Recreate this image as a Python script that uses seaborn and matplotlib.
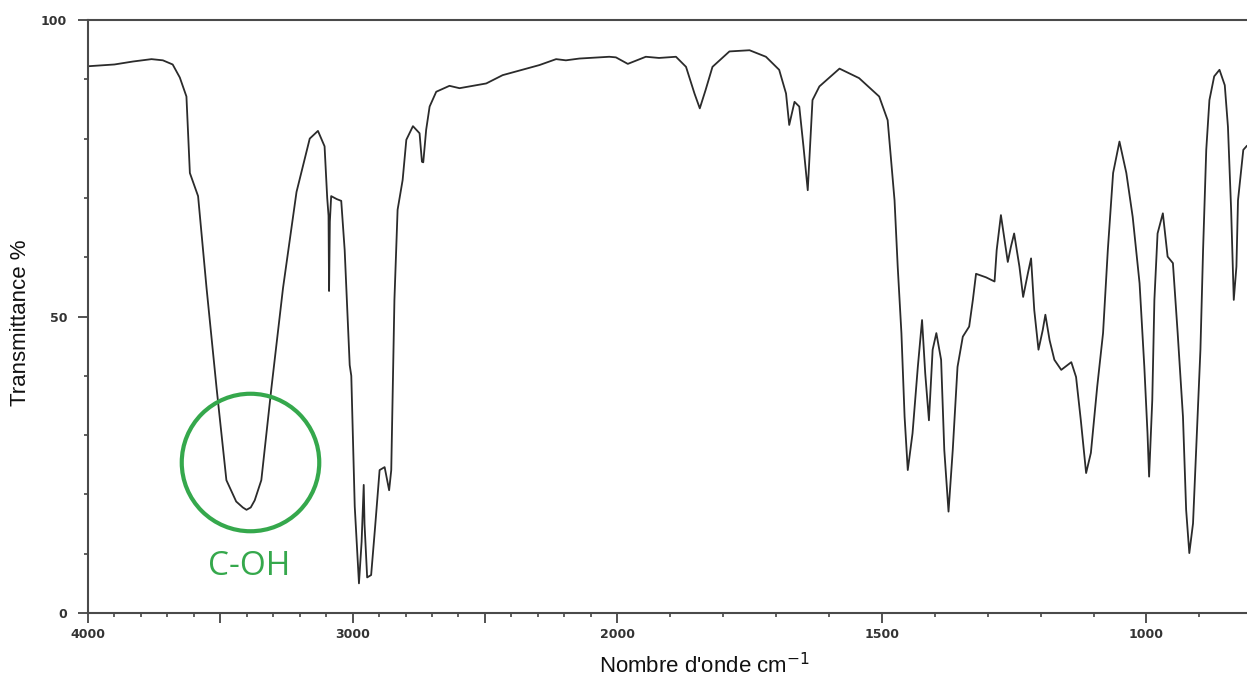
import numpy as np
import matplotlib
matplotlib.use("Agg")
import matplotlib.pyplot as plt
import seaborn as sns

# IR spectrum (wavenumber cm-1 -> transmittance %)
wavenumber = [
    4000, 3900, 3830, 3760, 3717, 3680, 3653, 3628, 3615, 3584, 3552, 3514, 3477,
    3440, 3415, 3401, 3385, 3370, 3345, 3307, 3263, 3212, 3162, 3131, 3106, 3096,
    3091, 3089, 3086, 3081, 3060, 3043, 3030, 3011, 3005, 2992, 2976, 2966, 2958,
    2955, 2945, 2930, 2915, 2898, 2879, 2862, 2854, 2848, 2842, 2830, 2811, 2797,
    2772, 2747, 2738, 2733, 2722, 2709, 2684, 2634, 2596, 2495, 2433, 2294, 2231,
    2194, 2143, 2030, 2005, 1980, 1946, 1921, 1889, 1870, 1854, 1844, 1833, 1820,
    1788, 1750, 1719, 1694, 1681, 1675, 1665, 1656, 1648, 1640, 1631, 1618, 1580,
    1543, 1505, 1489, 1476, 1470, 1463, 1457, 1451, 1442, 1432, 1424, 1418, 1411,
    1404, 1397, 1388, 1382, 1374, 1366, 1357, 1347, 1335, 1328, 1322, 1303, 1287,
    1283, 1275, 1268, 1262, 1256, 1250, 1240, 1233, 1224, 1218, 1212, 1204, 1196,
    1191, 1183, 1174, 1161, 1142, 1133, 1124, 1114, 1105, 1093, 1082, 1073, 1063,
    1051, 1038, 1026, 1013, 1004, 998, 995, 989, 985, 979, 969, 960, 950, 941, 931,
    925, 919, 912, 906, 898, 893, 887, 881, 872, 862, 852, 846, 840, 835, 830, 827,
    817, 810,
]
transmittance = [
    92.2, 92.5, 93.0, 93.4, 93.2, 92.5, 90.3, 87.1, 74.2, 70.3, 54.8, 37.9, 22.4,
    18.8, 17.8, 17.4, 17.8, 19.0, 22.4, 37.9, 54.8, 71.0, 80.0, 81.3, 78.7, 70.0,
    67.0, 54.3, 66.0, 70.3, 69.8, 69.5, 61.2, 41.8, 40.0, 18.0, 5.0, 12.0, 21.6,
    15.0, 6.0, 6.4, 14.5, 24.1, 24.6, 20.7, 24.1, 38.8, 52.8, 68.0, 73.0, 79.8,
    82.1, 80.9, 76.1, 76.0, 81.5, 85.4, 87.9, 88.9, 88.5, 89.3, 90.7, 92.4, 93.4,
    93.2, 93.5, 93.8, 93.7, 92.6, 93.8, 93.6, 93.8, 92.1, 87.6, 85.1, 88.2, 92.1,
    94.7, 94.9, 93.8, 91.6, 87.6, 82.3, 86.2, 85.4, 78.6, 71.3, 86.5, 88.8, 91.8,
    90.2, 87.1, 83.1, 69.6, 58.4, 47.2, 33.1, 24.1, 30.3, 41.5, 49.4, 40.4, 32.5,
    44.4, 47.2, 42.7, 27.5, 17.1, 27.5, 41.5, 46.6, 48.3, 52.8, 57.2, 56.6, 55.9,
    61.2, 67.1, 62.9, 59.2, 61.8, 64.0, 58.4, 53.3, 57.3, 59.8, 51.1, 44.4, 47.7,
    50.3, 46.0, 42.7, 41.0, 42.3, 39.8, 32.5, 23.6, 27.0, 38.2, 47.2, 61.2, 74.2,
    79.5, 74.2, 66.8, 55.6, 41.5, 30.3, 23.0, 35.9, 52.8, 64.0, 67.4, 60.1, 59.0,
    47.2, 33.1, 17.4, 10.1, 15.1, 27.5, 44.4, 61.2, 78.1, 86.5, 90.5, 91.6, 89.0,
    82.0, 68.0, 52.8, 58.4, 69.6, 78.1, 78.8,
]

x_major = [4000, 3500, 3000, 2500, 2000, 1500, 1000]
x_major_labels = ["4000", "", "3000", "", "2000", "1500", "1000"]
y_major = [0, 50, 100]
y_major_labels = ["0", "50", "100"]

# annotated band
coh_label = "C-OH"
coh_wavenumber = 3389
coh_transmittance = 25.5

df = {"w": wavenumber, "t": transmittance}

sns.set_theme(style="ticks")
plt.rcParams["font.family"] = ["Liberation Sans", "DejaVu Sans"]


# spectrometer axis: scale doubles below 2000 cm-1
def forward(w):
    w = np.asarray(w, dtype=float)
    return np.where(w >= 2000, w, 2000 - 2 * (2000 - w))


def inverse(u):
    u = np.asarray(u, dtype=float)
    return np.where(u >= 2000, u, 2000 - (2000 - u) / 2)


fig = plt.figure(figsize=(12.47, 6.77), dpi=100)
ax = fig.add_axes([88 / 1247, 64 / 677, 1 - 88 / 1247, 593 / 677])
ax.set_xscale("function", functions=(forward, inverse))

sns.lineplot(data=df, x="w", y="t", sort=False, estimator=None,
             color="#2b2b2b", linewidth=1.3, ax=ax)

ax.set_xlim(4000, 810)
ax.set_ylim(0, 100)

ax.set_xticks(x_major)
ax.set_xticklabels(x_major_labels)
ax.set_xticks([v for v in range(900, 4000, 100) if v % 500], minor=True)
ax.set_yticks(y_major)
ax.set_yticklabels(y_major_labels)
ax.set_yticks(range(10, 100, 10), minor=True)

ax.tick_params(which="major", direction="out", length=7, width=1.3,
               color="#444444", labelsize=9, labelcolor="#333333", pad=4)
ax.tick_params(which="minor", direction="out", length=3, width=1.2, color="#444444")
ax.tick_params(axis="y", which="major", pad=8)
for lab in ax.get_xticklabels() + ax.get_yticklabels():
    lab.set_fontweight("bold")
    lab.set_family("DejaVu Sans")

for side in ["left", "top", "bottom"]:
    ax.spines[side].set_color("#4a4a4a")
    ax.spines[side].set_linewidth(1.5)
ax.spines["right"].set_visible(False)

ax.set_xlabel("Nombre d'onde cm$^{-1}$", fontsize=16, color="#111111")
ax.xaxis.set_label_coords(0.532, -0.068)
ax.set_ylabel("Transmittance %", fontsize=16, color="#111111")
ax.yaxis.set_label_coords(-0.049, 0.49)

# green circle around the O-H band
ax.plot([coh_wavenumber], [coh_transmittance], marker="o", markersize=99,
        markerfacecolor="none", markeredgecolor="#35a84c", markeredgewidth=3,
        clip_on=False)
ax.text(coh_wavenumber, 7.8, coh_label, color="#35a84c", fontsize=24,
        family=["Open Sans", "DejaVu Sans"], ha="center", va="center")

fig.savefig("out.png", dpi=100)
